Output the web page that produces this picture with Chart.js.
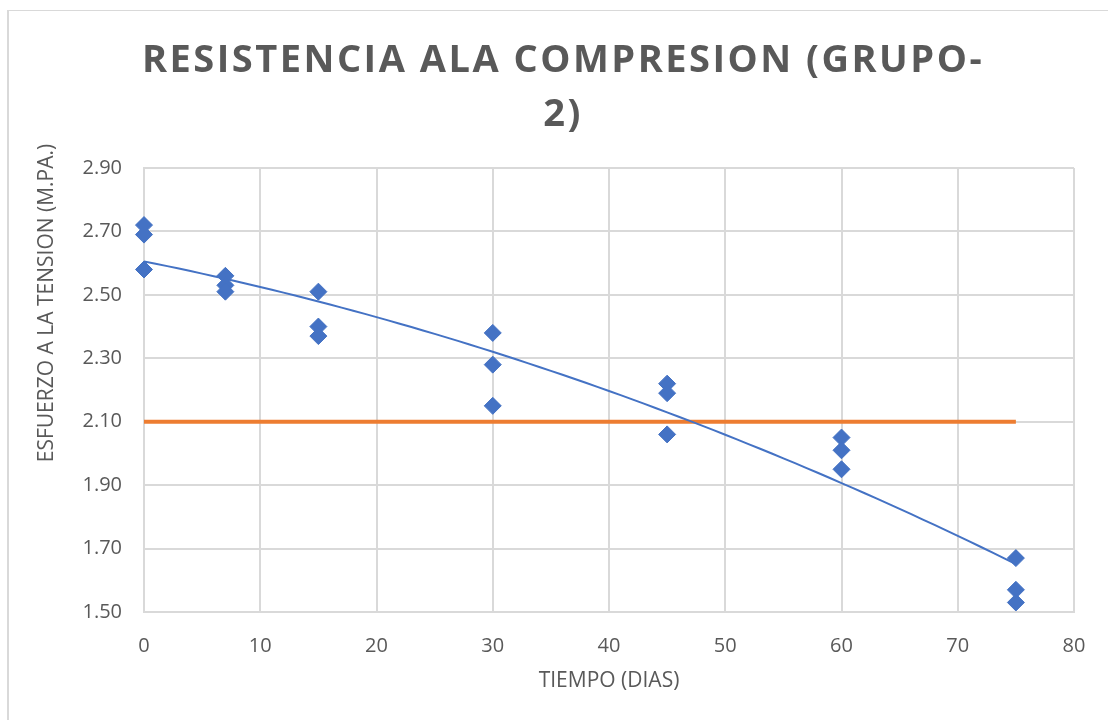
<!DOCTYPE html>
<html>
<head>
<meta charset="utf-8">
<title>Resistencia a la compresion</title>
<script src="https://cdn.jsdelivr.net/npm/chart.js@4.4.0/dist/chart.umd.min.js"></script>
<style>
  html, body { margin: 0; padding: 0; background: #fff; }
  #wrap { position: relative; width: 1108px; height: 720px; }
</style>
</head>
<body>
<div id="wrap"><canvas id="compChart" width="1108" height="720"></canvas></div>
<script>
// Ensayos por edad (dias) y esfuerzo medido (MPa)
const dias = [0, 0, 0, 7, 7, 7, 15, 15, 15, 30, 30, 30, 45, 45, 45, 60, 60, 60, 75, 75, 75];
const esfuerzo = [2.72, 2.69, 2.58, 2.56, 2.53, 2.51, 2.51, 2.40, 2.37, 2.38, 2.28, 2.15,
                  2.22, 2.19, 2.06, 2.05, 2.01, 1.95, 1.67, 1.57, 1.53];

// Linea de referencia (2.10 MPa)
const limiteX = [0, 75];
const limiteY = [2.10, 2.10];

const tituloGrafico = ['RESISTENCIA ALA COMPRESION (GRUPO-', '2)'];
const tituloX = 'TIEMPO (DIAS)';
const tituloY = 'ESFUERZO A LA TENSION (M.PA.)';

const AZUL = '#4472C4';
const NARANJA = '#ED7D31';
const GRIS = '#595959';
const REJILLA = '#d9d9d9';

// Ajuste polinomico de grado 2 por minimos cuadrados
function ajustePolinomico(xs, ys) {
  const s = [0, 0, 0, 0, 0];
  const t = [0, 0, 0];
  for (let i = 0; i < xs.length; i++) {
    for (let k = 0; k < 5; k++) s[k] += Math.pow(xs[i], k);
    for (let k = 0; k < 3; k++) t[k] += ys[i] * Math.pow(xs[i], k);
  }
  const m = [
    [s[0], s[1], s[2], t[0]],
    [s[1], s[2], s[3], t[1]],
    [s[2], s[3], s[4], t[2]]
  ];
  for (let c = 0; c < 3; c++) {
    for (let r = c + 1; r < 3; r++) {
      const f = m[r][c] / m[c][c];
      for (let k = c; k < 4; k++) m[r][k] -= f * m[c][k];
    }
  }
  const coef = [0, 0, 0];
  for (let r = 2; r >= 0; r--) {
    let v = m[r][3];
    for (let k = r + 1; k < 3; k++) v -= m[r][k] * coef[k];
    coef[r] = v / m[r][r];
  }
  return coef;
}

const coef = ajustePolinomico(dias, esfuerzo);
const tendencia = [];
for (let x = Math.min(...dias); x <= Math.max(...dias); x += 1) {
  tendencia.push({ x: x, y: coef[0] + coef[1] * x + coef[2] * x * x });
}

const puntos = dias.map((d, i) => ({ x: d, y: esfuerzo[i] }));
const limite = limiteX.map((d, i) => ({ x: d, y: limiteY[i] }));

// Marco, titulo y titulo del eje vertical
const decorado = {
  id: 'decorado',
  beforeDraw(chart) {
    const ctx = chart.ctx;
    ctx.save();
    ctx.fillStyle = '#fff';
    ctx.fillRect(0, 0, chart.width, chart.height);
    ctx.strokeStyle = REJILLA;
    ctx.lineWidth = 2;
    ctx.beginPath();
    ctx.moveTo(8, 10);
    ctx.lineTo(8, chart.height);
    ctx.stroke();
    ctx.lineWidth = 1;
    ctx.beginPath();
    ctx.moveTo(8, 10.5);
    ctx.lineTo(chart.width, 10.5);
    ctx.stroke();
    ctx.restore();
  },
  afterDraw(chart) {
    const ctx = chart.ctx;
    ctx.save();
    ctx.fillStyle = GRIS;
    ctx.font = 'bold 38px "Open Sans", sans-serif';
    if ('letterSpacing' in ctx) ctx.letterSpacing = '2.5px';
    ctx.textAlign = 'center';
    ctx.textBaseline = 'alphabetic';
    ctx.fillText(tituloGrafico[0], 563, 72);
    ctx.fillText(tituloGrafico[1], 563, 126);
    if ('letterSpacing' in ctx) ctx.letterSpacing = '0px';

    ctx.translate(47, 303);
    ctx.rotate(-Math.PI / 2);
    ctx.font = '21px "Open Sans", sans-serif';
    ctx.textBaseline = 'middle';
    ctx.fillText(tituloY, 0, 0);
    ctx.restore();
  }
};

new Chart(document.getElementById('compChart').getContext('2d'), {
  type: 'scatter',
  data: {
    datasets: [
      {
        label: 'Esfuerzo',
        data: puntos,
        pointStyle: 'rectRot',
        pointRadius: 8.5,
        backgroundColor: AZUL,
        borderColor: AZUL,
        borderWidth: 1,
        clip: false,
        order: 0
      },
      {
        type: 'line',
        label: 'Tendencia',
        data: tendencia,
        borderColor: AZUL,
        borderWidth: 2,
        pointRadius: 0,
        fill: false,
        tension: 0,
        order: 1
      },
      {
        type: 'line',
        label: 'Limite',
        data: limite,
        borderColor: NARANJA,
        borderWidth: 4,
        pointRadius: 0,
        fill: false,
        order: 2
      }
    ]
  },
  options: {
    responsive: false,
    devicePixelRatio: 1,
    animation: false,
    layout: { padding: { left: 0, right: 34, top: 168, bottom: 0 } },
    plugins: {
      legend: { display: false },
      tooltip: { enabled: false },
      title: { display: false }
    },
    scales: {
      x: {
        type: 'linear',
        min: 0,
        max: 80,
        afterFit(scale) { scale.height = 108; },
        ticks: {
          stepSize: 10,
          padding: 22,
          color: GRIS,
          font: { family: '"Open Sans", sans-serif', size: 20 }
        },
        grid: { color: REJILLA, lineWidth: 2, drawTicks: false },
        border: { color: REJILLA, width: 2 },
        title: {
          display: true,
          text: tituloX,
          color: GRIS,
          font: { family: '"Open Sans", sans-serif', size: 21 },
          padding: { top: 0, bottom: 26 }
        }
      },
      y: {
        type: 'linear',
        min: 1.5,
        max: 2.9,
        afterFit(scale) { scale.width = 144; },
        ticks: {
          stepSize: 0.2,
          padding: 22,
          color: GRIS,
          font: { family: '"Open Sans", sans-serif', size: 20 },
          callback: (v) => Number(v).toFixed(2)
        },
        grid: { color: REJILLA, lineWidth: 2, drawTicks: false },
        border: { color: REJILLA, width: 2 }
      }
    }
  },
  plugins: [decorado]
});
</script>
</body>
</html>
